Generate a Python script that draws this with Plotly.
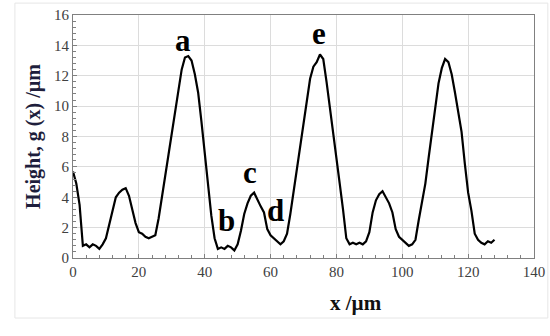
import plotly.graph_objects as go

x_um = list(range(0, 129))
height_um = [
    5.7, 4.9, 3.5, 0.8, 0.9, 0.7, 0.9, 0.8, 0.6, 0.9,
    1.3, 2.2, 3.3, 4.0, 4.3, 4.5, 4.6, 4.1, 3.2, 2.3,
    1.7, 1.6, 1.4, 1.3, 1.4, 1.5, 2.6, 3.9, 5.4, 6.8,
    8.3, 9.8, 11.0, 12.4, 13.2, 13.3, 13.0, 12.1, 10.9, 9.0,
    7.0, 4.9, 2.8, 1.3, 0.6, 0.7, 0.6, 0.8, 0.7, 0.5,
    0.9, 1.8, 2.9, 3.6, 4.1, 4.3, 3.8, 3.4, 3.0, 1.9,
    1.5, 1.3, 1.1, 0.9, 1.1, 1.6, 2.9, 4.4, 6.0, 7.3,
    9.0, 10.5, 11.8, 12.6, 12.9, 13.4, 13.1, 11.6, 10.0, 8.2,
    6.8, 4.9, 3.2, 1.3, 0.9, 1.0, 0.9, 1.0, 0.9, 1.1,
    1.7, 3.0, 3.8, 4.2, 4.4, 4.0, 3.6, 3.0, 1.9, 1.4,
    1.2, 1.0, 0.8, 0.9, 1.2, 2.5, 3.7, 4.9, 6.6, 8.3,
    9.9, 11.5, 12.5, 13.1, 12.9, 12.1, 10.9, 9.6, 8.3, 6.2,
    4.3, 3.1, 1.6, 1.2, 1.0, 0.9, 1.1, 1.0, 1.2,
]

label_text = ["a", "b", "c", "d", "e"]
label_x = [33.3, 46.7, 53.9, 61.4, 74.6]
label_y = [14.35, 2.5, 5.6, 3.1, 14.8]

x_ticks = [0, 20, 40, 60, 80, 100, 120, 140]
y_ticks = [0, 2, 4, 6, 8, 10, 12, 14, 16]

fig = go.Figure()
fig.add_trace(go.Scatter(x=x_um, y=height_um, mode="lines",
                         line=dict(color="black", width=2.2), showlegend=False))

serif = "Liberation Serif"
for t, lx, ly in zip(label_text, label_x, label_y):
    fig.add_annotation(x=lx, y=ly, text="<b>" + t + "</b>", showarrow=False, xref="x", yref="y",
                       font=dict(family=serif, size=31, color="black"))

fig.add_annotation(x=0.675, y=-0.185, xref="paper", yref="paper", showarrow=False,
                   text="<b>x /µm</b>", yanchor="middle",
                   font=dict(family=serif, size=21, color="#111111"))

fig.update_layout(
    width=550, height=336,
    margin=dict(l=73, r=16, t=15, b=78, autoexpand=False),
    plot_bgcolor="white", paper_bgcolor="white",
    font=dict(family=serif, color="#404040"),
    xaxis=dict(range=[0, 140], tickvals=x_ticks, showgrid=True, gridcolor="#dcdcdc",
               gridwidth=1, showline=True, linecolor="#808080", linewidth=1, mirror=True,
               ticks="inside", ticklen=4, tickcolor="#808080", zeroline=False, automargin=False,
               minor=dict(dtick=4, ticks="inside", ticklen=3, tickcolor="#808080", showgrid=False),
               tickfont=dict(family=serif, size=15, color="#404040")),
    yaxis=dict(range=[0, 16], tickvals=y_ticks, showgrid=True, gridcolor="#dcdcdc",
               gridwidth=1, showline=True, linecolor="#808080", linewidth=1, mirror=True,
               ticks="inside", ticklen=4, tickcolor="#808080", zeroline=False, automargin=False,
               minor=dict(dtick=0.4, ticks="inside", ticklen=3, tickcolor="#808080", showgrid=False),
               tickfont=dict(family=serif, size=15, color="#404040"),
               title=dict(text="<b>Height, g (x) /µm</b>",
                          font=dict(family=serif, size=20, color="#1e1e3c"), standoff=8)),
)
fig.add_shape(type="rect", xref="paper", yref="paper", x0=-0.126, x1=1.03, y0=-0.247, y1=1.049,
              line=dict(color="#e6e6e6", width=1), fillcolor="rgba(0,0,0,0)", layer="below")

fig.write_html("out.html", config={"displayModeBar": False},
               post_script="document.body.style.margin='0';document.body.style.padding='0';")
